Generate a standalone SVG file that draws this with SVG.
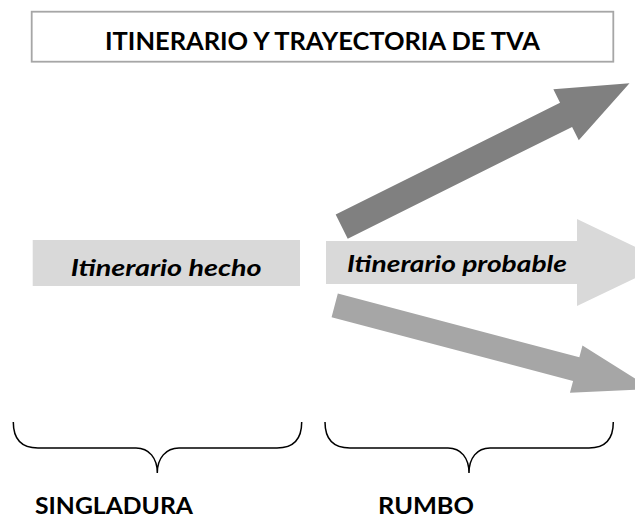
<svg xmlns="http://www.w3.org/2000/svg" width="635" height="518" viewBox="0 0 635 518">
<style>
.t{font-family:Lato,"Open Sans","Liberation Sans",sans-serif;font-weight:bold;fill:#000}
.it{font-style:italic}
.brace{fill:none;stroke:#000;stroke-width:1.5}
</style>
<rect width="635" height="518" fill="#fff"/>
<g id="title">
<rect x="31.7" y="11.7" width="581.6" height="50" fill="#fff" stroke="#a6a6a6" stroke-width="1.8"/>
<text class="t" x="105" y="50" font-size="25.5" textLength="435" lengthAdjust="spacingAndGlyphs">ITINERARIO Y TRAYECTORIA DE TVA</text>
</g>
<g id="connectors">
<polygon id="arrow-up" fill="#808080" transform="translate(341.7,226.7) rotate(-26.5)" points="0,-13.5 250.7,-13.5 250.7,-28.5 321.6,0 250.7,28.5 250.7,13.5 0,13.5"/>
<polygon id="arrow-down" fill="#a6a6a6" transform="translate(334.7,305.3) rotate(14.8)" points="0,-12.25 249.8,-12.25 249.8,-24.5 328,0 249.8,24.5 249.8,12.25 0,12.25"/>
</g>
<g id="itinerario-hecho">
<rect x="32.7" y="240" width="267.3" height="46" fill="#d9d9d9"/>
<text class="t it" x="70.7" y="276" font-size="22.3" textLength="191" lengthAdjust="spacingAndGlyphs">Itinerario hecho</text>
</g>
<g id="itinerario-probable">
<polygon fill="#d9d9d9" points="326,241 577,241 577,219 668,262.5 577,306 577,284 326,284"/>
<text class="t it" x="347" y="272" font-size="22.3" textLength="220" lengthAdjust="spacingAndGlyphs">Itinerario probable</text>
</g>
<g id="singladura">
<path class="brace" d="M13.3,422 C13.3,440 22,448 38,448 L136,448 C149,448 157.3,458 157.3,473 C157.3,458 166,448 179,448 L277,448 C293,448 301.7,440 301.7,422"/>
<text class="t" x="35" y="514" font-size="22" textLength="158" lengthAdjust="spacingAndGlyphs">SINGLADURA</text>
</g>
<g id="rumbo">
<path class="brace" d="M325,422 C325,440 334,448 350,448 L448,448 C461,448 469,458 469,473 C469,458 477,448 490,448 L589,448 C605,448 613.3,440 613.3,422"/>
<text class="t" x="378" y="514" font-size="22" textLength="96" lengthAdjust="spacingAndGlyphs">RUMBO</text>
</g>
</svg>
